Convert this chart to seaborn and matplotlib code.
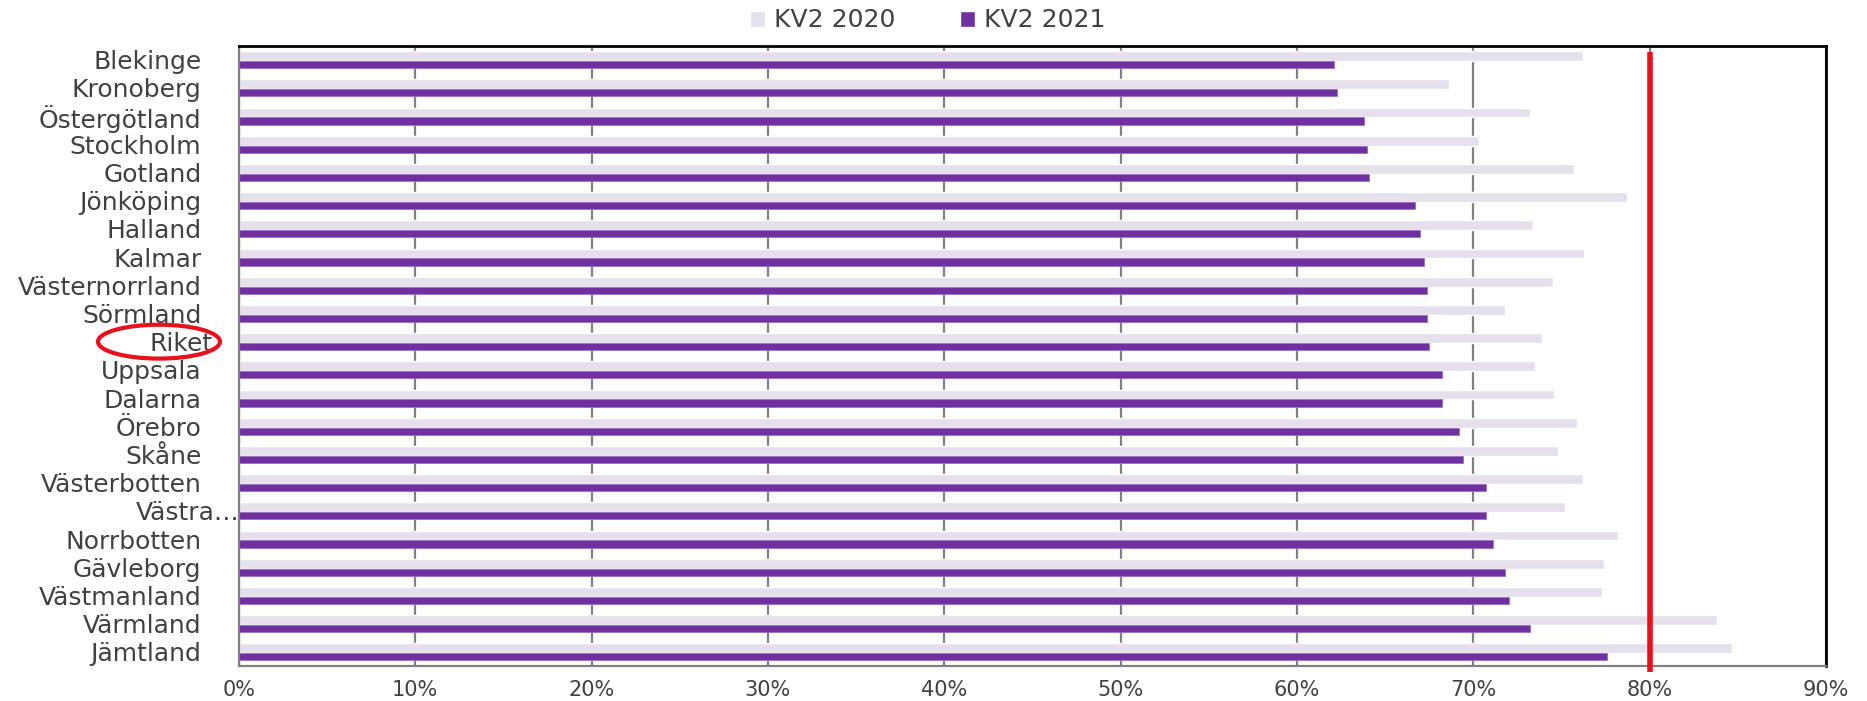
"""
KV2 2020 vs KV2 2021 per län – liggande stapeldiagram med målvärde 80 %.
"""
import matplotlib
matplotlib.use('Agg')
import matplotlib.pyplot as plt
import matplotlib.ticker as mticker
from matplotlib.patches import Ellipse, Patch
from matplotlib.transforms import ScaledTranslation, blended_transform_factory
import pandas as pd
import seaborn as sns

# Data (procent)
regions = ['Blekinge', 'Kronoberg', 'Östergötland', 'Stockholm', 'Gotland',
           'Jönköping', 'Halland', 'Kalmar', 'Västernorrland', 'Sörmland',
           'Riket', 'Uppsala', 'Dalarna', 'Örebro', 'Skåne', 'Västerbotten',
           'Västra…', 'Norrbotten', 'Gävleborg', 'Västmanland', 'Värmland',
           'Jämtland']
kv2_2020 = [76.2, 68.6, 73.2, 70.3, 75.7, 78.7, 73.4, 76.3, 74.5, 71.8,
            73.9, 73.5, 74.6, 75.9, 74.8, 76.2, 75.2, 78.2, 77.4, 77.3,
            83.8, 84.7]
kv2_2021 = [62.1, 62.3, 63.8, 64.0, 64.1, 66.7, 67.0, 67.2, 67.4, 67.4,
            67.5, 68.2, 68.2, 69.2, 69.4, 70.7, 70.7, 71.1, 71.8, 72.0,
            73.2, 77.6]
series = ['KV2 2020', 'KV2 2021']
target = 80
highlight = 'Riket'

C_2020 = '#E6E0EC'
C_2021 = '#7030A0'
C_RED = '#E8101A'
C_GRID = '#808080'
C_TEXT = '#404040'

n = len(regions)
df = pd.DataFrame({
    'region': regions * 2,
    'period': [series[0]] * n + [series[1]] * n,
    'value': kv2_2020 + kv2_2021,
})

sns.set_theme(style='white')
plt.rcParams['font.family'] = ['DejaVu Sans']

fig = plt.figure(figsize=(18.67, 7.01), dpi=100)
ax = fig.add_axes([0.128, 0.05, 0.85, 0.885])

sns.barplot(data=df, y='region', x='value', hue='period', order=regions,
            hue_order=series, palette=[C_2020, C_2021], width=0.6,
            dodge=True, saturation=1, legend=False, ax=ax, zorder=2)

# 2020-stapeln något tjockare än 2021, som i originalet
for bar in ax.containers[0]:
    bar.set_height(0.35)
for bar in ax.containers[1]:
    top = bar.get_y() - 0.3
    bar.set_y(top + 0.35)
    bar.set_height(0.25)
    bar.set_edgecolor('#9A70C2')
    bar.set_linewidth(0.6)

ax.set_xlim(0, 90)
ax.set_ylim(n - 0.5, -0.5)
ax.set_xticks(range(0, 91, 10))
ax.xaxis.set_major_formatter(mticker.PercentFormatter(decimals=0))
ax.xaxis.grid(True, color=C_GRID, lw=1.6)
ax.yaxis.grid(False)
ax.set_axisbelow(True)
ax.set_xlabel('')
ax.set_ylabel('')

ax.tick_params(axis='y', length=0, pad=27, labelsize=18, labelcolor=C_TEXT)
ax.tick_params(axis='x', length=0, pad=10, labelsize=15, labelcolor=C_TEXT)

for side in ['top', 'right']:
    ax.spines[side].set_color('black')
    ax.spines[side].set_linewidth(2)
for side in ['left', 'bottom']:
    ax.spines[side].set_color(C_GRID)
    ax.spines[side].set_linewidth(1.6)

# avkortad etikett och Riket sitter närmare axeln
for lbl in ax.get_yticklabels():
    shift = 0
    if lbl.get_text().endswith('…'):
        shift = 38
    elif lbl.get_text() == highlight:
        shift = 11
    if shift:
        lbl.set_transform(lbl.get_transform() +
                          ScaledTranslation(shift / 100, 0, fig.dpi_scale_trans))

# målvärde
ax.axvline(target, color=C_RED, lw=4, ymin=-0.01, ymax=0.99, zorder=5,
           solid_capstyle='butt', clip_on=False)

# legend
handles = [Patch(facecolor=C_2020), Patch(facecolor=C_2021)]
fig.legend(handles, series, loc='upper center', bbox_to_anchor=(0.497, 1.02),
           ncol=2, frameon=False, fontsize=18, labelcolor=C_TEXT,
           handlelength=0.6, handleheight=0.6, handletextpad=0.35,
           columnspacing=2.6)

# röd ring runt Riket
trans = blended_transform_factory(fig.transFigure, ax.transData)
ax.add_artist(Ellipse((159 / 1867, regions.index(highlight)), 122 / 1867, 1.2,
                      transform=trans, fill=False, ec=C_RED, lw=3,
                      clip_on=False, zorder=6))

fig.savefig('out.png', dpi=100)
plt.close(fig)
